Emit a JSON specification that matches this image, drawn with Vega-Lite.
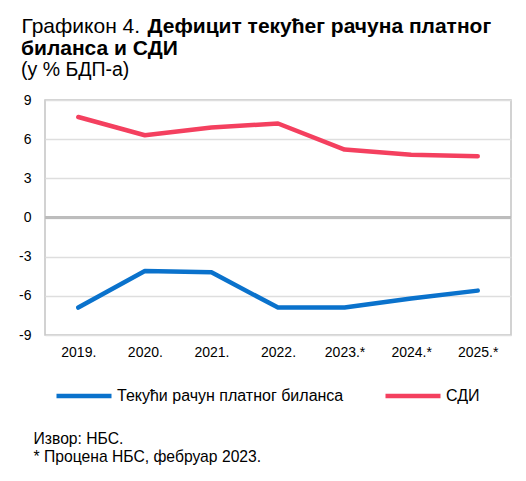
{
  "$schema": "https://vega.github.io/schema/vega-lite/v6.json",
  "autosize": "none",
  "width": 466,
  "height": 235,
  "padding": {"left": 45, "top": 100, "right": 15, "bottom": 146},
  "background": "white",
  "config": {
    "font": "Liberation Sans",
    "view": {"stroke": "#c4c4c4", "strokeWidth": 1.5},
    "axis": {"labelFont": "Liberation Sans", "titleFont": "Liberation Sans", "labelColor": "#000000", "titleColor": "#000000", "labelOverlap": false},
    "axisY": {"labelOverlap": false}
  },
  "title": {
    "text": "биланса и СДИ",
    "subtitle": "(у % БДП-а)",
    "anchor": "start",
    "frame": "group",
    "dx": -24,
    "dy": 78,
    "font": "Liberation Sans",
    "fontSize": 21,
    "fontWeight": "bold",
    "color": "#000000",
    "subtitleFont": "Liberation Sans",
    "subtitleFontSize": 19.5,
    "subtitleColor": "#000000",
    "subtitlePadding": 2,
    "offset": 14
  },
  "data": {
    "values": [
      {"year": "2019.", "series": "Текући рачун платног биланса", "value": -6.9},
      {"year": "2020.", "series": "Текући рачун платног биланса", "value": -4.1},
      {"year": "2021.", "series": "Текући рачун платног биланса", "value": -4.2},
      {"year": "2022.", "series": "Текући рачун платног биланса", "value": -6.9},
      {"year": "2023.*", "series": "Текући рачун платног биланса", "value": -6.9},
      {"year": "2024.*", "series": "Текући рачун платног биланса", "value": -6.2},
      {"year": "2025.*", "series": "Текући рачун платног биланса", "value": -5.6},
      {"year": "2019.", "series": "СДИ", "value": 7.7},
      {"year": "2020.", "series": "СДИ", "value": 6.3},
      {"year": "2021.", "series": "СДИ", "value": 6.9},
      {"year": "2022.", "series": "СДИ", "value": 7.2},
      {"year": "2023.*", "series": "СДИ", "value": 5.2},
      {"year": "2024.*", "series": "СДИ", "value": 4.8},
      {"year": "2025.*", "series": "СДИ", "value": 4.7}
    ]
  },
  "resolve": {"scale": {"y": "independent"}, "axis": {"y": "independent"}},
  "layer": [
    {
      "mark": {"type": "line", "strokeWidth": 4.5, "strokeCap": "round", "strokeJoin": "round"},
      "encoding": {
        "x": {
          "field": "year",
          "type": "ordinal",
          "sort": null,
          "scale": {"type": "point", "padding": 0.5},
          "axis": {
            "labelAngle": 0,
            "labelFontSize": 14,
            "labelPadding": 10,
            "ticks": false,
            "domain": false,
            "grid": false,
            "title": ["Извор: НБС.", "* Процена НБС, фебруар 2023."],
            "titleFontSize": 15.7,
            "titleFontWeight": "normal",
            "titleAlign": "left",
            "titleBaseline": "alphabetic",
            "titleAngle": 0,
            "titleX": -12,
            "titleY": 108,
            "titleLineHeight": 18
          }
        },
        "y": {
          "field": "value",
          "type": "quantitative",
          "scale": {"domain": [-9, 9], "nice": false, "zero": false},
          "axis": {
            "values": [-9, -6, -3, 0, 3, 6, 9],
            "labelExpr": "'' + datum.value",
            "labelOverlap": false,
            "labelFontSize": 14,
            "labelPadding": 14,
            "ticks": false,
            "domain": false,
            "grid": true,
            "gridColor": "#dedede",
            "gridWidth": 1.5,
            "title": "Графикон 4.",
            "titleFontSize": 21,
            "titleFontWeight": "normal",
            "titleAngle": 0,
            "titleAlign": "left",
            "titleBaseline": "alphabetic",
            "titleX": -24,
            "titleY": -68
          }
        },
        "color": {
          "field": "series",
          "type": "nominal",
          "sort": ["Текући рачун платног биланса", "СДИ"],
          "scale": {"domain": ["Текући рачун платног биланса", "СДИ"], "range": ["#0a72cc", "#f4405f"]},
          "legend": {
            "title": null,
            "orient": "none",
            "direction": "horizontal",
            "legendX": 9,
            "legendY": 266,
            "symbolType": "stroke",
            "symbolSize": 3025,
            "symbolStrokeWidth": 4.5,
            "labelFontSize": 16,
            "labelColor": "#000000",
            "labelOffset": 3,
            "columnPadding": 32,
            "labelLimit": 400
          }
        }
      }
    },
    {
      "mark": {"type": "rule", "color": "#bdbdbd", "strokeWidth": 1.5},
      "encoding": {
        "y": {
          "datum": 0,
          "type": "quantitative",
          "scale": {"domain": [-9, 9], "nice": false, "zero": false},
          "axis": {
            "orient": "right",
            "labels": false,
            "ticks": false,
            "domain": false,
            "grid": false,
            "title": "Дефицит текућег рачуна платног",
            "titleFontSize": 21,
            "titleFontWeight": "bold",
            "titleAngle": 0,
            "titleAlign": "left",
            "titleBaseline": "alphabetic",
            "titleX": -364,
            "titleY": -68
          }
        }
      }
    }
  ]
}
